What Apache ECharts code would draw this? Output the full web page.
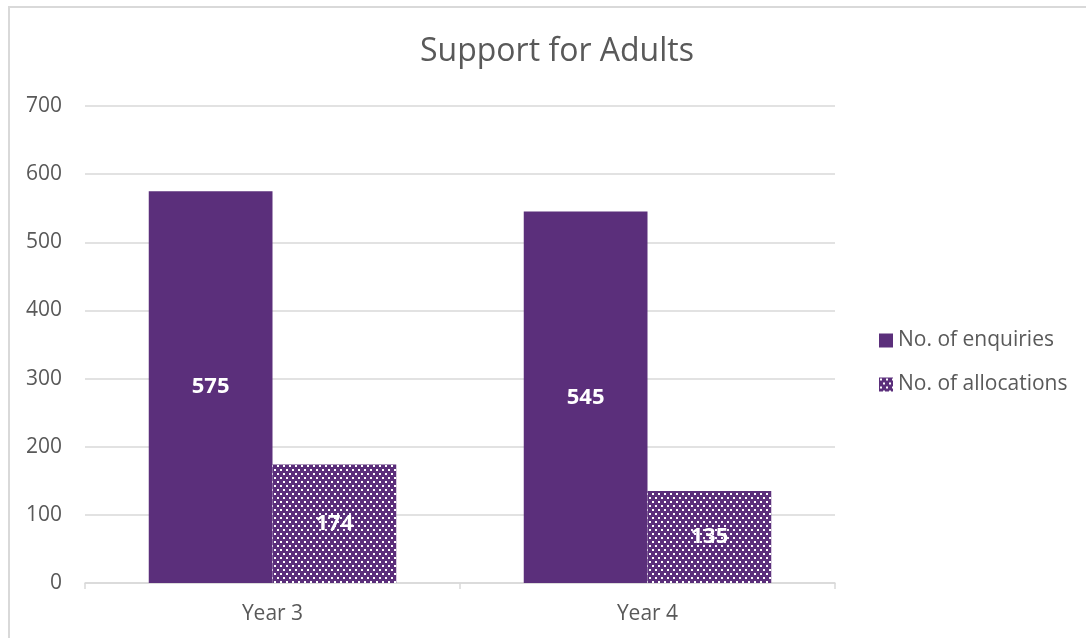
<!DOCTYPE html>
<html>
<head>
<meta charset="utf-8">
<script src="https://cdn.jsdelivr.net/npm/echarts@6/dist/echarts.min.js"></script>
<style>
  html, body { margin: 0; padding: 0; background: #fff; }
  #frame {
    position: absolute; left: 8px; top: 6px; right: 0; bottom: 0;
    border-top: 2px solid #d9d9d9; border-left: 2px solid #d9d9d9;
  }
  #chart { width: 1086px; height: 638px; position: absolute; left: 0; top: 0; }
</style>
</head>
<body>
<div id="frame"></div>
<div id="chart"></div>
<script>
const categories = ['Year 3', 'Year 4'];
const enquiries = [575, 545];
const allocations = [174, 135];
const yTicks = [0, 100, 200, 300, 400, 500, 600, 700];

const purple = '#5b2f7b';

// small tile: purple with staggered white dots
function dotPattern () {
  const c = document.createElement('canvas');
  c.width = 6;
  c.height = 8;
  const ctx = c.getContext('2d');
  ctx.fillStyle = purple;
  ctx.fillRect(0, 0, 6, 8);
  ctx.fillStyle = '#ffffff';
  ctx.fillRect(1, 1, 2, 2);
  ctx.fillRect(4, 5, 2, 2);
  return { image: c, repeat: 'repeat' };
}

const chart = echarts.init(document.getElementById('chart'), null, { renderer: 'canvas' });

const labelStyle = {
  show: true,
  position: 'inside',
  color: '#ffffff',
  fontFamily: 'Open Sans',
  fontWeight: 'bold',
  fontSize: 22
};

chart.setOption({
  animation: false,
  title: {
    text: 'Support for Adults',
    left: 552,
    top: 31,
    textAlign: 'center',
    textStyle: {
      fontFamily: 'Open Sans',
      fontWeight: 'normal',
      fontSize: 32,
      color: '#595959'
    }
  },
  legend: {
    orient: 'vertical',
    left: 874,
    top: 325,
    itemWidth: 14,
    itemHeight: 14,
    itemGap: 23,
    icon: 'rect',
    textStyle: {
      fontFamily: 'Open Sans',
      fontSize: 21,
      color: '#595959'
    },
    data: ['No. of enquiries', 'No. of allocations']
  },
  grid: {
    left: 85,
    right: 251,
    top: 106,
    bottom: 55,
    containLabel: false
  },
  xAxis: {
    type: 'category',
    data: categories,
    axisLine: { lineStyle: { color: '#d9d9d9', width: 1.5 } },
    axisTick: { show: true, length: 6, lineStyle: { color: '#d9d9d9', width: 1.5 } },
    axisLabel: {
      margin: 21,
      fontFamily: 'Open Sans',
      fontSize: 21,
      color: '#595959'
    }
  },
  yAxis: {
    type: 'value',
    min: yTicks[0],
    max: yTicks[yTicks.length - 1],
    interval: 100,
    axisLine: { show: false },
    axisTick: { show: false },
    splitLine: { lineStyle: { color: '#d9d9d9', width: 1.5 } },
    axisLabel: {
      margin: 23,
      fontFamily: 'Open Sans',
      fontSize: 21,
      color: '#595959'
    }
  },
  series: [
    {
      name: 'No. of enquiries',
      type: 'bar',
      data: enquiries,
      barGap: '0%',
      barCategoryGap: '34%',
      itemStyle: { color: purple },
      label: labelStyle
    },
    {
      name: 'No. of allocations',
      type: 'bar',
      data: allocations,
      barGap: '0%',
      barCategoryGap: '34%',
      itemStyle: { color: dotPattern() },
      label: labelStyle
    }
  ]
});
</script>
</body>
</html>
